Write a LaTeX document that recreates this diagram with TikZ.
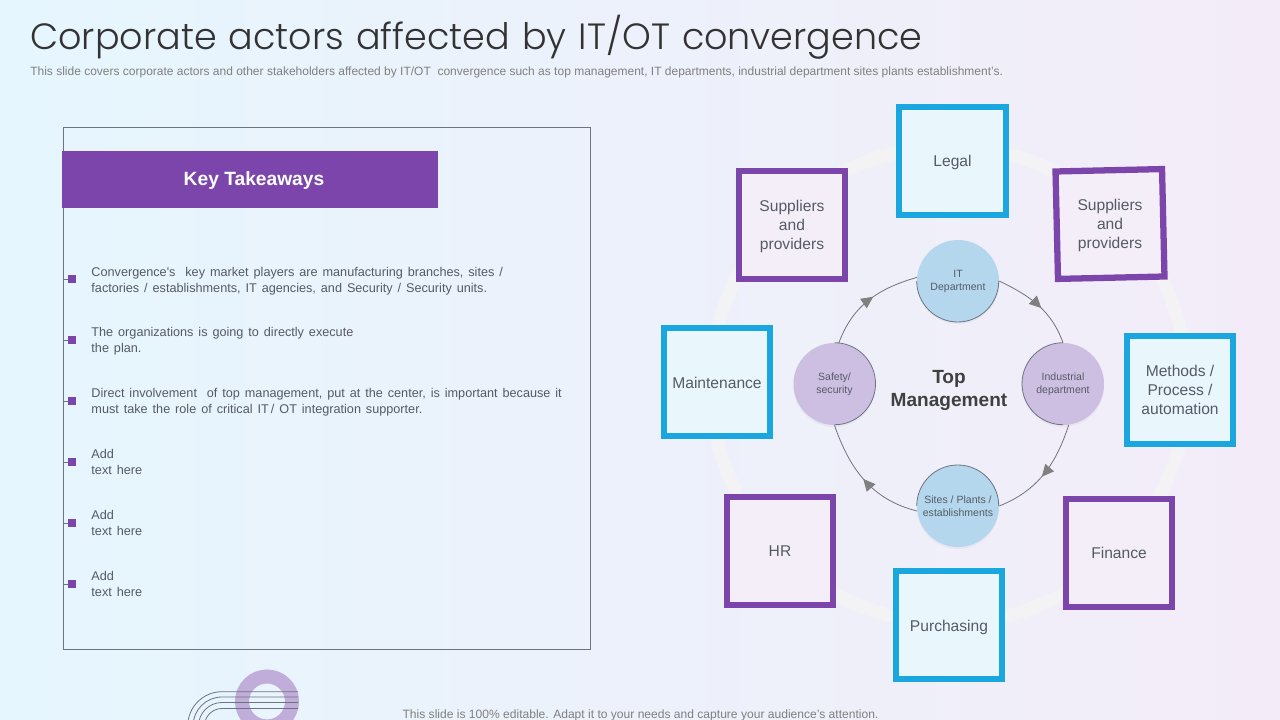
\documentclass[tikz,border=0pt]{standalone}
\usepackage{fontspec}
\usetikzlibrary{arrows.meta,decorations.markings,shadows}
\setmainfont{Liberation Sans}
\newfontfamily\titlefont[WordSpace=1.2]{Poppins Light}
\newfontfamily\listfont[WordSpace=1.4]{Liberation Sans}

\definecolor{actorblue}{HTML}{1AA7E0}
\definecolor{actorpurple}{HTML}{7B45AC}
\definecolor{blueback}{HTML}{E9F6FC}
\definecolor{purpleback}{HTML}{F4EEF9}
\definecolor{circleblue}{HTML}{B5D7ED}
\definecolor{circlepurple}{HTML}{CDBFE2}
\definecolor{ringgrey}{HTML}{F3F3F5}
\definecolor{bodygrey}{HTML}{555B66}
\definecolor{linegrey}{HTML}{6C7480}
\definecolor{pageleft}{HTML}{E6F6FE}
\definecolor{pageright}{HTML}{F3ECF8}

\tikzset{
	bluebox/.style={draw=actorblue, fill=blueback, line width=4.7pt, minimum width=79.9pt, minimum height=80.6pt, inner sep=0pt},
	purplebox/.style={draw=actorpurple, fill=purpleback, line width=4.7pt, minimum width=79.9pt, minimum height=80.6pt, inner sep=0pt},
	boxtext/.style={align=center, text=bodygrey, yshift=-1.2pt, font=\fontsize{11.7}{14.25}\selectfont},
	stage/.style={circle, minimum size=61.5pt, inner sep=0pt, drop shadow={opacity=0.08, shadow xshift=0pt, shadow yshift=-1.5pt}},
	stagetext/.style={align=center, text=bodygrey, yshift=-0.5pt, font=\fontsize{7.9}{9.75}\selectfont},
	listtext/.style={anchor=west, align=left, text=bodygrey, font=\listfont\fontsize{9.5}{12}\selectfont},
	bullet/.style={fill=actorpurple, minimum size=6pt, inner sep=0pt},
	midarrow/.style={postaction={decorate}, decoration={markings, mark=at position #1 with {\arrow[color=gray]{Triangle[length=9pt,width=8.5pt]}}}},
	flow/.style={line width=0.6pt, color=linegrey}
}

\begin{document}
\begin{tikzpicture}[x=0.75pt, y=0.75pt]

	\useasboundingbox (0,0) rectangle (1280,720);
	\clip (0,0) rectangle (1280,720);
	\shade[left color=pageleft, right color=pageright] (0,0) rectangle (1280,720);

	% heading
	\node[anchor=west, inner sep=0pt, text=black!80, font=\titlefont\fontsize{27.4}{32}\selectfont] (heading) at (30,683) {Corporate actors affected by IT/OT convergence};
	\node[anchor=west, inner sep=0pt, text=gray, font=\fontsize{9}{11}\selectfont] (subheading) at (30,647.5) {This slide covers corporate actors and other stakeholders affected by IT/OT\ \ convergence such as top management, IT departments, industrial department sites plants establishment's.};

	% left panel
	\node[draw=linegrey, line width=0.6pt, minimum width=395pt, minimum height=391.5pt, inner sep=0pt] (panel) at (327,331.75) {};
	\node[fill=actorpurple, minimum width=282pt, minimum height=42.75pt, inner sep=0pt] (takeaways) at (250,540.5) {};
	\node[text=white, font=\bfseries\fontsize{14.4}{16}\selectfont] (keytext) at (254,539.5) {Key Takeaways};

	\foreach \name/\ypos in {one/441, two/380, three/319, four/258, five/197, six/136} {
		\node[bullet] (\name) at (72,\ypos) {};
		\draw[linegrey, line width=0.6pt] (\name.west) -- (\name.west -| panel.west);
	}

	\node[listtext] (textone) at (86.75,438.5) {Convergence's\ \ key market players are manufacturing branches, sites /\\factories / establishments, IT agencies, and Security / Security units.};
	\node[listtext] (texttwo) at (86.75,378.5) {The organizations is going to directly execute\\the plan.};
	\node[listtext] (textthree) at (86.75,317.5) {Direct involvement\ \ of top management, put at the center, is important because it\\must take the role of critical IT\,/ OT integration supporter.};
	\node[listtext] (textfour) at (86.75,258) {Add\\text here};
	\node[listtext] (textfive) at (86.75,197) {Add\\text here};
	\node[listtext] (textsix) at (86.75,136) {Add\\text here};

	% bottom corner
	\draw[color=circlepurple!85!actorpurple, line width=10.5pt] (267,18.5) circle (25 and 25);
	\foreach \rad in {34.3, 29, 23.5, 17.5} {
		\draw[linegrey, line width=0.6pt] (298,-6+\rad) -- (222,-6+\rad) arc (90:180:\rad);
	}
	\node[inner sep=0pt, text=gray, font=\fontsize{9.05}{11}\selectfont] (footer) at (640.5,5) {This slide is 100\% editable. Adapt it to your needs and capture your audience's attention.};

	% ring behind the boxes
	\draw[ringgrey, line width=9.75pt] (949,335) circle (238);

	\node[bluebox] (legal) at (952.5,559) {};
	\node[purplebox] (supplierl) at (792,495) {};
	\node[purplebox, rotate=1.3] (supplierr) at (1110,496) {};
	\node[bluebox] (maintenance) at (717,338) {};
	\node[bluebox] (methods) at (1180,330) {};
	\node[purplebox] (hr) at (780,169) {};
	\node[purplebox] (finance) at (1119,167) {};
	\node[bluebox] (purchasing) at (949,95) {};

	\node[boxtext] (legaltext) at (legal) {Legal};
	\node[boxtext] (supplierltext) at (supplierl) {Suppliers\\and\\providers};
	\node[boxtext] (supplierrtext) at (supplierr) {Suppliers\\and\\providers};
	\node[boxtext, yshift=0.75pt] (maintenancetext) at (maintenance) {Maintenance};
	\node[boxtext, yshift=1.5pt] (methodstext) at (methods) {Methods /\\Process /\\automation};
	\node[boxtext, yshift=0.75pt] (hrtext) at (hr) {HR};
	\node[boxtext, yshift=1.5pt] (financetext) at (finance) {Finance};
	\node[boxtext, yshift=-0.75pt] (purchasingtext) at (purchasing) {Purchasing};

	% inner cycle
	\node[stage, fill=circleblue] (itdept) at (958,439) {};
	\node[stage, fill=circlepurple] (safety) at (834.5,336) {};
	\node[stage, fill=circlepurple] (industrial) at (1063,336) {};
	\node[stage, fill=circleblue] (sites) at (958,214) {};

	\node[stagetext] (ittext) at (itdept) {IT\\Department};
	\node[stagetext] (safetytext) at (safety) {Safety/\\security};
	\node[stagetext] (industrialtext) at (industrial) {Industrial\\department};
	\node[stagetext] (sitestext) at (sites) {Sites / Plants /\\establishments};

	\node[align=center, text=black!75, font=\bfseries\fontsize{14.3}{17.25}\selectfont] (top) at (949,330) {Top\\Management};

	\draw[flow, midarrow=0.55] (safety.84) to[out=70, in=196] (itdept.175);
	\draw[flow, midarrow=0.55] (itdept.east) to[out=-26, in=110] (industrial.north);
	\draw[flow, midarrow=0.53] (industrial.-82) to[out=-108, in=22] (sites.east);
	\draw[flow, midarrow=0.51] (sites.187) to[out=166, in=-71] (safety.south);

	\draw[flow] (itdept.west) arc (180:360:30.75pt);
	\draw[flow] (sites.west) arc (180:0:30.75pt);
	\draw[flow] (safety.north) arc (90:-90:30.75pt);
	\draw[flow] (industrial.north) arc (90:270:30.75pt);

\end{tikzpicture}
\end{document}
